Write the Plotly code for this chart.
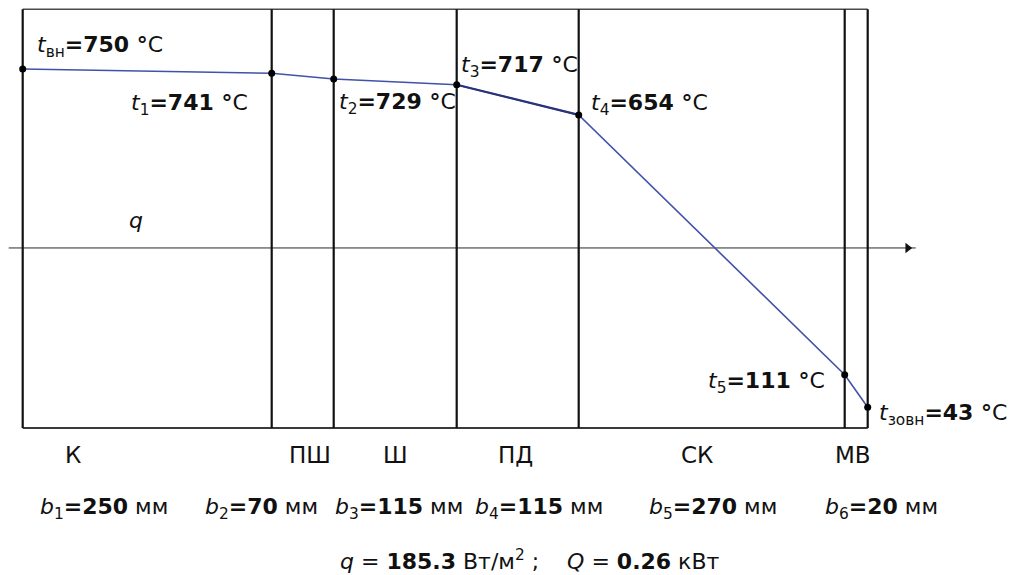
import plotly.graph_objects as go

# Layers of the furnace wall (inside -> outside)
layer_names = ["К", "ПШ", "Ш", "ПД", "СК", "МВ"]
thickness_mm = [250, 70, 115, 115, 270, 20]
# drawn positions of the interfaces along the wall
boundary_x = [0, 249, 311, 434, 556, 822, 845]
# temperatures at the interfaces, °C
temp_subs = ["вн", "1", "2", "3", "4", "5", "зовн"]
temps = [750, 741, 729, 717, 654, 111, 43]
q_flux = 185.3   # W/m2
Q_power = 0.26   # kW

# frame / axis levels (°C)
T_BOTTOM = 0
T_TOP = 875
T_AXIS = 376

# screen mapping
W, H = 1013, 575
X0_PX = 22.7            # pixel of the inner wall face
Y750_PX = 69.0          # pixel row of 750 °C
PX_PER_DEG = 0.4785
x_range = [-X0_PX, W - X0_PX]
y_range = [750 - (H - Y750_PX) / PX_PER_DEG, 750 + Y750_PX / PX_PER_DEG]

FONT = "DejaVu Sans, Liberation Sans, Arial, sans-serif"
NB = "\u00a0"
fig = go.Figure()

x_left, x_right = boundary_x[0], boundary_x[-1]

# frame: top and bottom edges
fig.add_trace(go.Scatter(x=[x_left, x_right], y=[T_TOP, T_TOP], mode="lines",
                         line=dict(color="#4a4a4a", width=1.5), hoverinfo="skip"))
fig.add_trace(go.Scatter(x=[x_left, x_right], y=[T_BOTTOM, T_BOTTOM], mode="lines",
                         line=dict(color="#3a3a3a", width=2), hoverinfo="skip"))

# heat-flow axis with arrow
fig.add_trace(go.Scatter(x=[-14, 893], y=[T_AXIS, T_AXIS], mode="lines",
                         line=dict(color="#2a2a2a", width=1), hoverinfo="skip"))
fig.add_trace(go.Scatter(x=[885], y=[T_AXIS], mode="markers",
                         marker=dict(symbol="triangle-right", size=9, color="#111"),
                         hoverinfo="skip"))

# interface lines
for bx in boundary_x:
    fig.add_trace(go.Scatter(x=[bx, bx], y=[T_BOTTOM, T_TOP], mode="lines",
                             line=dict(color="#111111", width=2.2), hoverinfo="skip"))

# temperature profile
fig.add_trace(go.Scatter(x=boundary_x, y=temps, mode="lines",
                         line=dict(color="#4152a8", width=1.6), hoverinfo="skip"))
fig.add_trace(go.Scatter(x=boundary_x[3:5], y=temps[3:5], mode="lines",
                         line=dict(color="#27337a", width=2.2), hoverinfo="skip"))
fig.add_trace(go.Scatter(x=boundary_x, y=temps, mode="markers",
                         marker=dict(color="#000", size=7), hoverinfo="skip"))

# temperature labels: (xanchor, xshift, yshift)
t_label_style = [("left", 12, 23), ("right", -22, -31), ("left", 3, -24),
                 ("left", 2, 18), ("left", 10, 10), ("right", -18, -8),
                 ("left", 9, -7)]
for bx, T, sub, (xa, xs, ys) in zip(boundary_x, temps, temp_subs, t_label_style):
    fig.add_annotation(x=bx, y=T, xref="x", yref="y", showarrow=False,
                       text=f"<i>t</i><sub>{sub}</sub><b>={T}{NB}°</b>C",
                       xanchor=xa, yanchor="middle", xshift=xs, yshift=ys,
                       font=dict(family=FONT, size=22, color="#111"))

# q marker above the axis
fig.add_annotation(x=113, y=T_AXIS, showarrow=False, text="<i>q</i>",
                   yanchor="middle", yshift=27,
                   font=dict(family=FONT, size=22, color="#111"))

# layer names and thicknesses
name_x = [50, 287, 373, 493, 674, 830]
b_x = [15, 180, 310, 450, 624, 800]
for i, (nm, b) in enumerate(zip(layer_names, thickness_mm)):
    fig.add_annotation(x=name_x[i], y=T_BOTTOM, showarrow=False, text=nm,
                       xanchor="center", yanchor="middle", yshift=-27,
                       font=dict(family=FONT, size=23, color="#111"))
    fig.add_annotation(x=b_x[i], y=T_BOTTOM, showarrow=False,
                       text=f"<i>b</i><sub>{i + 1}</sub><b>={b}</b>{NB}мм",
                       xanchor="left", yanchor="middle", yshift=-81,
                       font=dict(family=FONT, size=22, color="#111"))

# heat flux summary
fig.add_annotation(x=315, y=T_BOTTOM, showarrow=False,
                   text=(f"<i>q</i>{NB}={NB}<b>{q_flux}</b>{NB}Вт/м<sup>2</sup>{NB};"
                         f"{NB}{NB}{NB}{NB}<i>Q</i>{NB}={NB}<b>{Q_power}</b>{NB}кВт"),
                   xanchor="left", yanchor="middle", yshift=-132,
                   font=dict(family=FONT, size=22, color="#111"))

fig.update_xaxes(visible=False, range=x_range, fixedrange=True)
fig.update_yaxes(visible=False, range=y_range, fixedrange=True)
fig.update_layout(width=W, height=H, autosize=False,
                  margin=dict(l=0, r=0, t=0, b=0, pad=0),
                  paper_bgcolor="white", plot_bgcolor="white",
                  showlegend=False)

fig.write_html("out.html")
